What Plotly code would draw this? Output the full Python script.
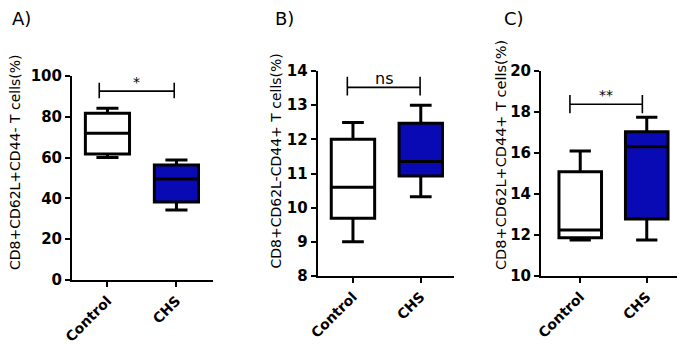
import plotly.graph_objects as go

# The page body has an 8px margin, so the figure is 8px smaller than the window
# and every pixel position below is shifted by OFF.
OFF = 8
W, H = 685 - OFF, 344 - OFF

categories = ["Control", "CHS"]

# Panel A: CD8+CD62L+CD44- T cells(%)
a_low = [60.1, 34.3]
a_q1 = [61.8, 38.2]
a_med = [71.9, 49.5]
a_q3 = [81.7, 56.4]
a_high = [84.2, 58.8]

# Panel B: CD8+CD62L-CD44+ T cells(%)
b_low = [9.0, 10.32]
b_q1 = [9.69, 10.93]
b_med = [10.6, 11.35]
b_q3 = [12.0, 12.47]
b_high = [12.49, 13.0]

# Panel C: CD8+CD62L+CD44+ T cells(%)
c_low = [11.76, 11.76]
c_q1 = [11.87, 12.78]
c_med = [12.24, 16.31]
c_q3 = [15.09, 17.04]
c_high = [16.1, 17.74]

panel_labels = ["A)", "B)", "C)"]
y_titles = ["CD8+CD62L+CD44- T cells(%)",
            "CD8+CD62L-CD44+ T cells(%)",
            "CD8+CD62L+CD44+ T cells(%)"]
y_ranges = [[0, 100], [8, 14], [10, 20]]
y_dticks = [20, 1, 2]
sig_labels = ["*", "ns", "**"]
sig_y = [92.6, 13.52, 18.38]
sig_tick_top = [96.7, 13.83, 18.83]
sig_tick_bot = [89.1, 13.28, 17.94]
sig_x0 = [-0.119, -0.083, -0.155]
sig_x1 = [0.968, 0.99, 0.934]

fill_colors = ["white", "#0a0ab4"]

panels = [
    (a_low, a_q1, a_med, a_q3, a_high),
    (b_low, b_q1, b_med, b_q3, b_high),
    (c_low, c_q1, c_med, c_q3, c_high),
]

# layout geometry (window pixels)
x_px = [(72, 213), (317.7, 454), (541, 680)]
y_px = [(280, 76), (276, 71), (276, 71)]
x_ranges = [[-0.514, 1.53], [-0.52, 1.49], [-0.59, 1.50]]
ytitle_pos = [(14.5, 162.5), (275, 161.5), (501, 155)]
ytitle_size = [14, 14, 14.5]
plabel_pos = [(10, 19), (273, 19), (502, 19)]


def px_x(v):
    return (v - OFF) / W


def px_y(v):
    return 1 - (v - OFF) / H


fig = go.Figure()
font_family = "DejaVu Sans, Liberation Sans, Arial, sans-serif"

for p, (lo, q1, med, q3, hi) in enumerate(panels):
    xa = "x" if p == 0 else f"x{p+1}"
    ya = "y" if p == 0 else f"y{p+1}"
    for i, cat in enumerate(categories):
        fig.add_trace(go.Box(
            x=[cat], q1=[q1[i]], median=[med[i]], q3=[q3[i]],
            lowerfence=[lo[i]], upperfence=[hi[i]],
            fillcolor=fill_colors[i], line=dict(color="black", width=3),
            whiskerwidth=0.5, width=0.64, boxpoints=False,
            xaxis=xa, yaxis=ya, showlegend=False, hoverinfo="skip",
        ))
    # significance bracket
    fig.add_shape(type="line", xref=xa, yref=ya, x0=sig_x0[p], x1=sig_x1[p],
                  y0=sig_y[p], y1=sig_y[p], line=dict(color="black", width=1.6))
    for xx in (sig_x0[p], sig_x1[p]):
        fig.add_shape(type="line", xref=xa, yref=ya, x0=xx, x1=xx,
                      y0=sig_tick_bot[p], y1=sig_tick_top[p],
                      line=dict(color="black", width=1.6))
    fig.add_annotation(xref=xa, yref=ya, x=(sig_x0[p] + sig_x1[p]) / 2, y=sig_y[p],
                       text=sig_labels[p], showarrow=False, yanchor="middle",
                       yshift=9,
                       font=dict(family=font_family, size=16 if sig_labels[p] == "ns" else 14,
                                 color="black"))
    # y axis title
    fig.add_annotation(xref="paper", yref="paper",
                       x=px_x(ytitle_pos[p][0]), y=px_y(ytitle_pos[p][1]),
                       text=y_titles[p], textangle=-90, showarrow=False,
                       xanchor="center", yanchor="middle",
                       font=dict(family=font_family, size=ytitle_size[p], color="black"))
    # panel label
    fig.add_annotation(xref="paper", yref="paper",
                       x=px_x(plabel_pos[p][0]), y=px_y(plabel_pos[p][1]),
                       text=panel_labels[p], showarrow=False,
                       xanchor="left", yanchor="middle",
                       font=dict(family=font_family, size=18, color="black"))

    axis_common = dict(showline=True, linewidth=2, linecolor="black",
                       ticks="outside", ticklen=5, tickwidth=2, tickcolor="black",
                       showgrid=False, zeroline=False, automargin=False)
    xkey = "xaxis" if p == 0 else f"xaxis{p+1}"
    ykey = "yaxis" if p == 0 else f"yaxis{p+1}"
    fig.update_layout(**{
        xkey: dict(domain=[px_x(x_px[p][0]), px_x(x_px[p][1])], anchor=ya,
                   type="category", categoryorder="array", categoryarray=categories,
                   range=x_ranges[p], tickangle=-45,
                   tickfont=dict(family=font_family, size=14, color="black", weight="bold"),
                   **axis_common),
        ykey: dict(domain=[px_y(y_px[p][0]), px_y(y_px[p][1])], anchor=xa,
                   range=y_ranges[p], dtick=y_dticks[p], tick0=0,
                   tickfont=dict(family=font_family, size=15, color="black", weight="bold"),
                   **axis_common),
    })

fig.update_layout(width=W, height=H, margin=dict(l=0, r=0, t=0, b=0),
                  paper_bgcolor="white", plot_bgcolor="white",
                  boxmode="overlay", showlegend=False)

fig.write_html("out.html")
